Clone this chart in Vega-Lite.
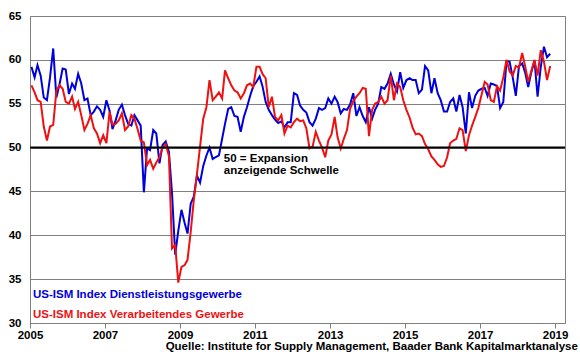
{
  "$schema": "https://vega.github.io/schema/vega-lite/v6.json",
  "width": 535,
  "height": 307,
  "autosize": {"type": "none"},
  "padding": {"left": 30, "top": 16, "right": 15, "bottom": 36},
  "background": "white",
  "config": {
    "view": {"stroke": "#808080", "strokeWidth": 1},
    "font": "Liberation Sans"
  },
  "title": {
    "text": "Quelle: Institute for Supply Management, Baader Bank Kapitalmarktanalyse",
    "orient": "bottom",
    "anchor": "end",
    "fontSize": 11.5,
    "fontWeight": "bold",
    "color": "black",
    "font": "Liberation Sans",
    "offset": 0,
    "dx": 10
  },
  "layer": [
    {
      "data": {
        "values": [
          {"m":"2005-01-15","dl":59.2,"vg":57.1},{"m":"2005-02-15","dl":58.0,"vg":56.3},{"m":"2005-03-15","dl":59.4,"vg":55.4},{"m":"2005-04-15","dl":58.2,"vg":55.2},{"m":"2005-05-15","dl":55.7,"vg":52.4},{"m":"2005-06-15","dl":55.4,"vg":50.8},{"m":"2005-07-15","dl":58.0,"vg":52.4},{"m":"2005-08-15","dl":61.3,"vg":52.6},{"m":"2005-09-15","dl":55.7,"vg":56.5},{"m":"2005-10-15","dl":57.2,"vg":57.1},{"m":"2005-11-15","dl":59.0,"vg":56.7},{"m":"2005-12-15","dl":58.9,"vg":55.2},
          {"m":"2006-01-15","dl":56.1,"vg":55.0},{"m":"2006-02-15","dl":57.3,"vg":55.8},{"m":"2006-03-15","dl":56.7,"vg":54.4},{"m":"2006-04-15","dl":58.4,"vg":55.2},{"m":"2006-05-15","dl":57.3,"vg":53.7},{"m":"2006-06-15","dl":55.4,"vg":52.0},{"m":"2006-07-15","dl":55.6,"vg":52.7},{"m":"2006-08-15","dl":53.7,"vg":53.7},{"m":"2006-09-15","dl":54.1,"vg":52.2},{"m":"2006-10-15","dl":54.7,"vg":51.6},{"m":"2006-11-15","dl":54.3,"vg":50.5},{"m":"2006-12-15","dl":53.5,"vg":51.4},
          {"m":"2007-01-15","dl":55.4,"vg":50.5},{"m":"2007-02-15","dl":54.2,"vg":54.1},{"m":"2007-03-15","dl":52.1,"vg":52.6},{"m":"2007-04-15","dl":53.1,"vg":52.7},{"m":"2007-05-15","dl":54.3,"vg":53.1},{"m":"2007-06-15","dl":54.9,"vg":53.9},{"m":"2007-07-15","dl":53.7,"vg":52.0},{"m":"2007-08-15","dl":52.7,"vg":52.4},{"m":"2007-09-15","dl":52.5,"vg":53.7},{"m":"2007-10-15","dl":53.7,"vg":53.3},{"m":"2007-11-15","dl":53.1,"vg":52.1},{"m":"2007-12-15","dl":52.5,"vg":50.8},
          {"m":"2008-01-15","dl":44.9,"vg":50.6},{"m":"2008-02-15","dl":49.9,"vg":48.0},{"m":"2008-03-15","dl":49.7,"vg":48.6},{"m":"2008-04-15","dl":52.0,"vg":47.6},{"m":"2008-05-15","dl":51.6,"vg":48.3},{"m":"2008-06-15","dl":48.2,"vg":48.9},{"m":"2008-07-15","dl":50.3,"vg":50.0},{"m":"2008-08-15","dl":50.7,"vg":50.4},{"m":"2008-09-15","dl":49.5,"vg":49.0},{"m":"2008-10-15","dl":44.8,"vg":38.5},{"m":"2008-11-15","dl":37.8,"vg":38.9},{"m":"2008-12-15","dl":40.5,"vg":34.6},
          {"m":"2009-01-15","dl":42.9,"vg":36.4},{"m":"2009-02-15","dl":41.4,"vg":36.6},{"m":"2009-03-15","dl":40.2,"vg":37.2},{"m":"2009-04-15","dl":43.6,"vg":40.4},{"m":"2009-05-15","dl":44.4,"vg":44.0},{"m":"2009-06-15","dl":46.8,"vg":47.0},{"m":"2009-07-15","dl":46.0,"vg":50.1},{"m":"2009-08-15","dl":47.9,"vg":53.3},{"m":"2009-09-15","dl":49.1,"vg":54.6},{"m":"2009-10-15","dl":50.0,"vg":57.7},{"m":"2009-11-15","dl":48.7,"vg":55.4},{"m":"2009-12-15","dl":48.9,"vg":55.8},
          {"m":"2010-01-15","dl":49.1,"vg":56.3},{"m":"2010-02-15","dl":51.0,"vg":55.6},{"m":"2010-03-15","dl":52.7,"vg":58.8},{"m":"2010-04-15","dl":54.4,"vg":57.9},{"m":"2010-05-15","dl":54.6,"vg":57.1},{"m":"2010-06-15","dl":53.6,"vg":56.5},{"m":"2010-07-15","dl":53.5,"vg":56.3},{"m":"2010-08-15","dl":51.8,"vg":55.6},{"m":"2010-09-15","dl":53.5,"vg":56.2},{"m":"2010-10-15","dl":54.6,"vg":57.1},{"m":"2010-11-15","dl":55.9,"vg":57.3},{"m":"2010-12-15","dl":57.0,"vg":56.9},
          {"m":"2011-01-15","dl":57.5,"vg":59.2},{"m":"2011-02-15","dl":58.1,"vg":59.2},{"m":"2011-03-15","dl":57.0,"vg":58.4},{"m":"2011-04-15","dl":55.2,"vg":57.9},{"m":"2011-05-15","dl":54.3,"vg":54.6},{"m":"2011-06-15","dl":53.7,"vg":55.8},{"m":"2011-07-15","dl":53.2,"vg":53.5},{"m":"2011-08-15","dl":52.8,"vg":53.1},{"m":"2011-09-15","dl":53.0,"vg":53.7},{"m":"2011-10-15","dl":52.3,"vg":51.6},{"m":"2011-11-15","dl":52.9,"vg":52.5},{"m":"2011-12-15","dl":52.9,"vg":52.3},
          {"m":"2012-01-15","dl":56.2,"vg":52.9},{"m":"2012-02-15","dl":56.0,"vg":53.3},{"m":"2012-03-15","dl":54.8,"vg":53.0},{"m":"2012-04-15","dl":54.3,"vg":53.1},{"m":"2012-05-15","dl":54.0,"vg":52.2},{"m":"2012-06-15","dl":52.9,"vg":49.9},{"m":"2012-07-15","dl":52.5,"vg":50.1},{"m":"2012-08-15","dl":53.3,"vg":51.8},{"m":"2012-09-15","dl":54.5,"vg":50.8},{"m":"2012-10-15","dl":54.3,"vg":50.0},{"m":"2012-11-15","dl":54.5,"vg":48.9},{"m":"2012-12-15","dl":55.6,"vg":50.8},
          {"m":"2013-01-15","dl":55.0,"vg":51.5},{"m":"2013-02-15","dl":55.8,"vg":53.5},{"m":"2013-03-15","dl":55.2,"vg":51.2},{"m":"2013-04-15","dl":53.9,"vg":49.9},{"m":"2013-05-15","dl":54.4,"vg":51.0},{"m":"2013-06-15","dl":54.3,"vg":52.0},{"m":"2013-07-15","dl":54.9,"vg":54.4},{"m":"2013-08-15","dl":56.2,"vg":55.3},{"m":"2013-09-15","dl":53.6,"vg":55.8},{"m":"2013-10-15","dl":54.6,"vg":56.2},{"m":"2013-11-15","dl":53.6,"vg":56.8},{"m":"2013-12-15","dl":52.9,"vg":56.7},
          {"m":"2014-01-15","dl":54.6,"vg":51.3},{"m":"2014-02-15","dl":53.3,"vg":54.3},{"m":"2014-03-15","dl":54.3,"vg":55.0},{"m":"2014-04-15","dl":55.0,"vg":55.2},{"m":"2014-05-15","dl":56.9,"vg":55.8},{"m":"2014-06-15","dl":56.7,"vg":55.0},{"m":"2014-07-15","dl":57.3,"vg":55.4},{"m":"2014-08-15","dl":58.4,"vg":58.2},{"m":"2014-09-15","dl":57.2,"vg":55.4},{"m":"2014-10-15","dl":56.4,"vg":57.3},{"m":"2014-11-15","dl":58.6,"vg":56.9},{"m":"2014-12-15","dl":56.8,"vg":55.4},
          {"m":"2015-01-15","dl":57.7,"vg":54.3},{"m":"2015-02-15","dl":57.9,"vg":53.4},{"m":"2015-03-15","dl":57.7,"vg":52.3},{"m":"2015-04-15","dl":57.7,"vg":51.5},{"m":"2015-05-15","dl":56.2,"vg":51.6},{"m":"2015-06-15","dl":56.6,"vg":51.3},{"m":"2015-07-15","dl":59.3,"vg":50.4},{"m":"2015-08-15","dl":58.8,"vg":49.8},{"m":"2015-09-15","dl":56.2,"vg":49.0},{"m":"2015-10-15","dl":57.9,"vg":48.6},{"m":"2015-11-15","dl":56.2,"vg":48.1},{"m":"2015-12-15","dl":55.4,"vg":47.8},
          {"m":"2016-01-15","dl":54.1,"vg":47.9},{"m":"2016-02-15","dl":54.1,"vg":48.9},{"m":"2016-03-15","dl":55.2,"vg":50.5},{"m":"2016-04-15","dl":55.6,"vg":50.8},{"m":"2016-05-15","dl":54.1,"vg":51.0},{"m":"2016-06-15","dl":56.0,"vg":52.2},{"m":"2016-07-15","dl":54.6,"vg":52.0},{"m":"2016-08-15","dl":51.6,"vg":49.6},{"m":"2016-09-15","dl":56.3,"vg":51.4},{"m":"2016-10-15","dl":54.5,"vg":52.5},{"m":"2016-11-15","dl":55.9,"vg":53.5},{"m":"2016-12-15","dl":56.5,"vg":54.5},
          {"m":"2017-01-15","dl":56.7,"vg":56.0},{"m":"2017-02-15","dl":56.8,"vg":57.5},{"m":"2017-03-15","dl":55.9,"vg":57.2},{"m":"2017-04-15","dl":57.3,"vg":55.4},{"m":"2017-05-15","dl":57.2,"vg":55.2},{"m":"2017-06-15","dl":57.0,"vg":57.0},{"m":"2017-07-15","dl":54.5,"vg":56.5},{"m":"2017-08-15","dl":55.2,"vg":58.0},{"m":"2017-09-15","dl":59.8,"vg":60.0},{"m":"2017-10-15","dl":59.8,"vg":58.7},{"m":"2017-11-15","dl":58.0,"vg":58.2},{"m":"2017-12-15","dl":55.9,"vg":59.3},
          {"m":"2018-01-15","dl":59.3,"vg":59.1},{"m":"2018-02-15","dl":59.6,"vg":60.8},{"m":"2018-03-15","dl":58.6,"vg":59.3},{"m":"2018-04-15","dl":56.9,"vg":57.5},{"m":"2018-05-15","dl":58.6,"vg":58.7},{"m":"2018-06-15","dl":59.9,"vg":60.0},{"m":"2018-07-15","dl":55.8,"vg":58.2},{"m":"2018-08-15","dl":59.2,"vg":61.1},{"m":"2018-09-15","dl":61.5,"vg":59.8},{"m":"2018-10-15","dl":60.3,"vg":57.7},{"m":"2018-11-15","dl":60.7,"vg":59.3}
        ]
      },
      "layer": [
        {
          "mark": {"type": "line", "color": "#0000DD", "strokeWidth": 2, "clip": true},
          "encoding": {
            "x": {
              "field": "m",
              "type": "temporal",
              "scale": {"type": "utc", "domain": [1104537600000, 1554681600000]},
              "axis": {
                "title": null,
                "values": [1104537600000, 1167609600000, 1230768000000, 1293840000000, 1356998400000, 1420070400000, 1483228800000, 1546300800000],
                "format": "%Y",
                "grid": false,
                "domainColor": "#808080",
                "tickColor": "#808080",
                "tickSize": 5,
                "labelPadding": 1,
                "labelFont": "Liberation Sans",
                "labelFontSize": 11.5,
                "labelFontWeight": "bold",
                "labelColor": "black",
                "labelFlush": false,
                "labelOverlap": false
              }
            },
            "y": {
              "field": "dl",
              "type": "quantitative",
              "scale": {"domain": [30, 65], "nice": false, "zero": false},
              "axis": {
                "title": null,
                "values": [30, 35, 40, 45, 50, 55, 60, 65],
                "grid": true,
                "gridColor": "#808080",
                "gridWidth": 1,
                "gridOpacity": 1,
                "ticks": false,
                "domainColor": "#808080",
                "labelPadding": 9,
                "labelFont": "Liberation Sans",
                "labelFontSize": 11.5,
                "labelFontWeight": "bold",
                "labelColor": "black"
              }
            }
          }
        },
        {
          "mark": {"type": "line", "color": "#EE1111", "strokeWidth": 2, "clip": true},
          "encoding": {
            "x": {"field": "m", "type": "temporal"},
            "y": {"field": "vg", "type": "quantitative"}
          }
        }
      ]
    },
    {
      "data": {"values": [{}]},
      "mark": {"type": "rule", "color": "black", "strokeWidth": 2},
      "encoding": {"y": {"datum": 50, "type": "quantitative"}}
    },
    {
      "data": {"values": [{}]},
      "mark": {"type": "text", "text": "50 = Expansion", "align": "left", "baseline": "alphabetic", "font": "Liberation Sans", "fontSize": 11.5, "fontWeight": "bold", "color": "black"},
      "encoding": {"x": {"datum": 1267660800000, "type": "temporal"}, "y": {"datum": 48.4, "type": "quantitative"}}
    },
    {
      "data": {"values": [{}]},
      "mark": {"type": "text", "text": "anzeigende Schwelle", "align": "left", "baseline": "alphabetic", "font": "Liberation Sans", "fontSize": 11.5, "fontWeight": "bold", "color": "black"},
      "encoding": {"x": {"datum": 1267660800000, "type": "temporal"}, "y": {"datum": 47.0, "type": "quantitative"}}
    },
    {
      "data": {"values": [{}]},
      "mark": {"type": "text", "text": "US-ISM Index Dienstleistungsgewerbe", "align": "left", "baseline": "alphabetic", "font": "Liberation Sans", "fontSize": 11.5, "fontWeight": "bold", "color": "#0000DD"},
      "encoding": {"x": {"datum": 1107043200000, "type": "temporal"}, "y": {"datum": 32.85, "type": "quantitative"}}
    },
    {
      "data": {"values": [{}]},
      "mark": {"type": "text", "text": "US-ISM Index Verarbeitendes Gewerbe", "align": "left", "baseline": "alphabetic", "font": "Liberation Sans", "fontSize": 11.5, "fontWeight": "bold", "color": "#EE1111"},
      "encoding": {"x": {"datum": 1107043200000, "type": "temporal"}, "y": {"datum": 30.55, "type": "quantitative"}}
    }
  ]
}
